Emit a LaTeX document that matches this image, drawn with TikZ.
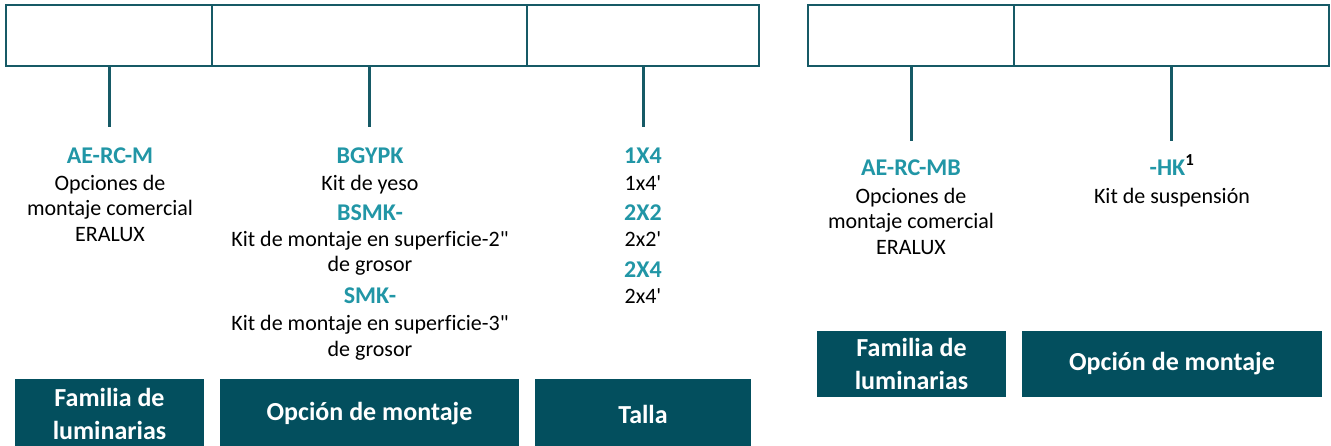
\documentclass[tikz,border=0pt]{standalone}
\usepackage{fontspec}
\setmainfont{Carlito}[Ligatures={TeXOff,NoCommon}]
\definecolor{boxteal}{HTML}{034F5E}
\definecolor{codeteal}{HTML}{2196A6}
\definecolor{lineteal}{HTML}{165A66}
\begin{document}
\begin{tikzpicture}[x=1pt,y=-1pt,
  cell/.style={draw=lineteal, line width=1.4pt, inner sep=0pt, outer sep=0pt, minimum height=61pt, anchor=north west},
  tick/.style={draw=lineteal, line width=3pt},
  code/.style={font=\fontsize{24}{28}\selectfont\bfseries, text=codeteal, anchor=base, inner sep=0pt},
  desc/.style={font=\fontsize{22}{26}\selectfont, text=black, anchor=base, inner sep=0pt},
  head/.style={fill=boxteal, draw=none, text=white, font=\fontsize{26}{32.5}\selectfont\bfseries, align=center, inner sep=0pt, outer sep=0pt, anchor=north west}]
\useasboundingbox (0,0) rectangle (1331,445);

% top code cells
\node[cell, minimum width=206pt] (c1) at (6,5) {};
\node[cell, minimum width=315pt] (c2) at (212,5) {};
\node[cell, minimum width=232pt] (c3) at (527,5) {};
\node[cell, minimum width=206pt] (c4) at (808,5) {};
\node[cell, minimum width=315pt] (c5) at (1014,5) {};

% connector ends
\coordinate (e1) at ([yshift=-61pt]c1.south);
\coordinate (e2) at ([yshift=-61pt]c2.south);
\coordinate (e3) at ([yshift=-61pt]c3.south);
\coordinate (e4) at ([yshift=-75pt]c4.south);
\coordinate (e5) at ([yshift=-75pt]c5.south);
\draw[tick] (c1.south) -- (e1);
\draw[tick] (c2.south) -- (e2);
\draw[tick] (c3.south) -- (e3);
\draw[tick] (c4.south) -- (e4);
\draw[tick] (c5.south) -- (e5);

% column 1
\node[code] (a1) at (110,163) {AE-RC-M};
\node[desc] (a1d1) at (110,190) {Opciones de};
\node[desc] (a1d2) at (110,215.5) {montaje comercial};
\node[desc] (a1d3) at (110,241) {ERALUX};

% column 2
\node[code] (b1) at (370,163) {BGYPK};
\node[desc] (b1d1) at (370,190) {Kit de yeso};
\node[code] (b2) at (370,220) {BSMK-};
\node[desc] (b2d1) at (370,246) {Kit de montaje en superficie-2"};
\node[desc] (b2d2) at (370,271.5) {de grosor};
\node[code] (b3) at (370,303.5) {SMK-};
\node[desc] (b3d1) at (370,330.5) {Kit de montaje en superficie-3"};
\node[desc] (b3d2) at (370,356) {de grosor};

% column 3
\node[code] (t1) at (643,163) {1X4};
\node[desc] (t1d) at (643,190) {1x4'};
\node[code] (t2) at (643,220) {2X2};
\node[desc] (t2d) at (643,246) {2x2'};
\node[code] (t3) at (643,277) {2X4};
\node[desc] (t3d) at (643,303) {2x4'};

% right group
\node[code] (r1) at (911,175) {AE-RC-MB};
\node[desc] (r1d1) at (911,203) {Opciones de};
\node[desc] (r1d2) at (911,228.5) {montaje comercial};
\node[desc] (r1d3) at (911,254) {ERALUX};
\node[code] (r2) at (1172,175) {-HK\textsuperscript{\color{black}1}};
\node[desc] (r2d1) at (1172,203) {Kit de suspensión};

% header boxes
\node[head, minimum width=189pt, minimum height=70pt] (h1) at (15,379) {Familia de\\luminarias};
\node[head, minimum width=299pt, minimum height=70pt] (h2) at (220,379) {Opción de montaje};
\node[head, minimum width=216pt, minimum height=70pt] (h3) at (535,379) {Talla};
\node[head, minimum width=189pt, minimum height=66pt] (h4) at (817,331) {Familia de\\luminarias};
\node[head, minimum width=300pt, minimum height=66pt] (h5) at (1022,331) {Opción de montaje};
\end{tikzpicture}
\end{document}
